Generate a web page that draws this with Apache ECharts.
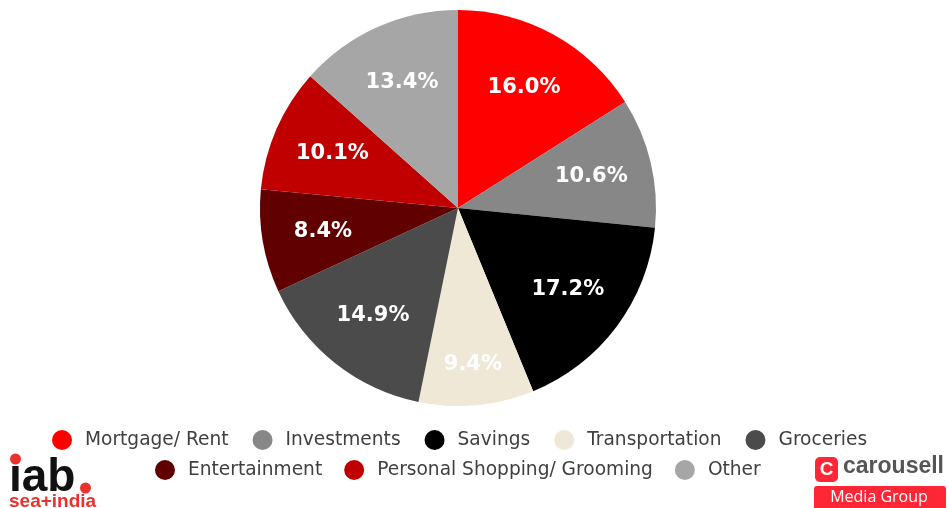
<!DOCTYPE html>
<html><head><meta charset="utf-8">
<script src="https://cdn.jsdelivr.net/npm/echarts@6/dist/echarts.min.js"></script>
<style>html,body{margin:0;padding:0;background:#fff}#c{width:949px;height:508px}</style>
</head><body><div id="c"></div>
<script>
const categories = ["Mortgage/ Rent","Investments","Savings","Transportation","Groceries","Entertainment","Personal Shopping/ Grooming","Other"];
const values = [16.0,10.6,17.2,9.4,14.9,8.4,10.1,13.4];
const colors = ["#FF0000","#878787","#000000","#EFE8D6","#4B4B4B","#600000","#C00000","#A6A6A6"];
const legendRow1 = ["Mortgage/ Rent","Investments","Savings","Transportation","Groceries"];
const legendRow2 = ["Entertainment","Personal Shopping/ Grooming","Other"];

const chart = echarts.init(document.getElementById('c'), null, {renderer:'canvas'});
const pieData = categories.map((n,i)=>({name:n,value:values[i],itemStyle:{color:colors[i]}}));
const labelData = categories.map((n,i)=>{
  const d = {name:n,value:values[i]};
  if (n === "Transportation") d.label = {offset:[2,20]};
  return d;
});
const legendCommon = {
  orient:'horizontal', icon:'circle',
  itemWidth:36, itemHeight:20,
  textStyle:{fontFamily:'DejaVu Sans', fontSize:18.6, color:'#404040'},
  selectedMode:false
};
chart.setOption({
  animation:false,
  legend:[
    Object.assign({top:425, left:47, itemGap:24, data:legendRow1}, legendCommon),
    Object.assign({top:455, left:150, itemGap:22, data:legendRow2}, legendCommon)
  ],
  series:[
    {type:'pie', center:[458,208], radius:[0,198], startAngle:90, clockwise:true,
     data:pieData, label:{show:false}, labelLine:{show:false}, silent:true,
     itemStyle:{borderWidth:0}},
    {type:'pie', center:[458,208], radius:[70,198], startAngle:90, clockwise:true,
     data:labelData, silent:true, legendHoverLink:false,
     itemStyle:{color:'rgba(0,0,0,0)', borderWidth:0},
     label:{show:true, position:'inside', formatter:p=>p.value.toFixed(1)+'%',
       fontFamily:'DejaVu Sans', fontWeight:'bold', fontSize:21, color:'#fff'},
     labelLine:{show:false}}
  ],
  graphic:[
    {type:'text', x:9, y:501, style:{text:'\u0131ab', font:'bold 46px "Liberation Sans"', fill:'#111', verticalAlign:'bottom'}},
    {type:'circle', shape:{cx:15.5,cy:459,r:5.5}, style:{fill:'#E8322E'}},
    {type:'circle', shape:{cx:85.5,cy:488,r:5.5}, style:{fill:'#E8322E'}},
    {type:'text', x:9, y:492, style:{text:'sea+india', font:'bold 19px "Liberation Sans"', fill:'#E8322E'}},
    {type:'rect', shape:{x:815,y:457,width:23,height:25,r:5}, style:{fill:'#FF2636'}},
    {type:'text', x:826.5, y:470, style:{text:'C', font:'bold 19px "Liberation Sans"', fill:'#fff', align:'center', verticalAlign:'middle'}},
    {type:'text', x:843, y:467, style:{text:'carousell', font:'bold 23px "Liberation Sans"', fill:'#555', verticalAlign:'middle'}},
    {type:'rect', shape:{x:814,y:486,width:132,height:26,r:3}, style:{fill:'#FF2636'}},
    {type:'text', x:879, y:497, style:{text:'Media Group', font:'16px "Open Sans"', fill:'#fff', align:'center', verticalAlign:'middle'}}
  ]
});
</script></body></html>
